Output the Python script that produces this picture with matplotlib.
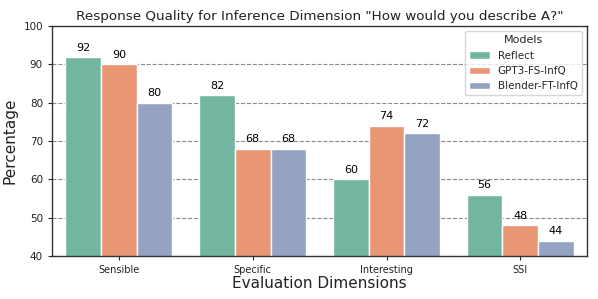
import pandas as pd
import matplotlib
matplotlib.use('Agg')
import matplotlib.pyplot as plt
import seaborn as sns

dimensions = ['Sensible', 'Specific', 'Interesting', 'SSI']
models = ['Reflect', 'GPT3-FS-InfQ', 'Blender-FT-InfQ']
reflect = [92, 82, 60, 56]
gpt3 = [90, 68, 74, 48]
blender = [80, 68, 72, 44]

rows = []
for m, vals in zip(models, [reflect, gpt3, blender]):
    for d, v in zip(dimensions, vals):
        rows.append({'Dimension': d, 'Model': m, 'Percentage': v})
df = pd.DataFrame(rows)

sns.set_style('ticks')
plt.rcParams['font.family'] = ['DejaVu Sans']

fig = plt.figure(figsize=(5.98, 2.99), dpi=100)
ax = fig.add_axes([0.087, 0.144, 0.895, 0.769])
ax.set_axisbelow(True)
ax.grid(True, axis='y', linestyle='--', color='gray', linewidth=0.8, alpha=0.9)

sns.barplot(data=df, x='Dimension', y='Percentage', hue='Model', order=dimensions,
            hue_order=models, palette='Set2', saturation=0.75, edgecolor='white',
            linewidth=1, ax=ax)

for c in ax.containers:
    ax.bar_label(c, fmt='%d', padding=3, fontsize=8, color='black')

ax.set_ylim(40, 100)
ax.set_xlim(-0.5, 3.5)
ax.set_yticks(range(40, 101, 10))
ax.tick_params(axis='y', labelsize=7.5, length=3, labelcolor='#222222')
ax.tick_params(axis='x', labelsize=7, length=3, labelcolor='#222222')
ax.set_title('Response Quality for Inference Dimension "How would you describe A?"',
             fontsize=9.7, pad=4, color='#222222')
ax.set_xlabel('Evaluation Dimensions', fontsize=11, labelpad=1, color='#222222')
ax.set_ylabel('Percentage', fontsize=11, color='#222222')
for s in ax.spines.values():
    s.set_color('#333333')
    s.set_linewidth(1)

leg = ax.legend(title='Models', loc='upper right', fontsize=7.5, title_fontsize=8, frameon=True)

fig.savefig('out.png', dpi=100)
